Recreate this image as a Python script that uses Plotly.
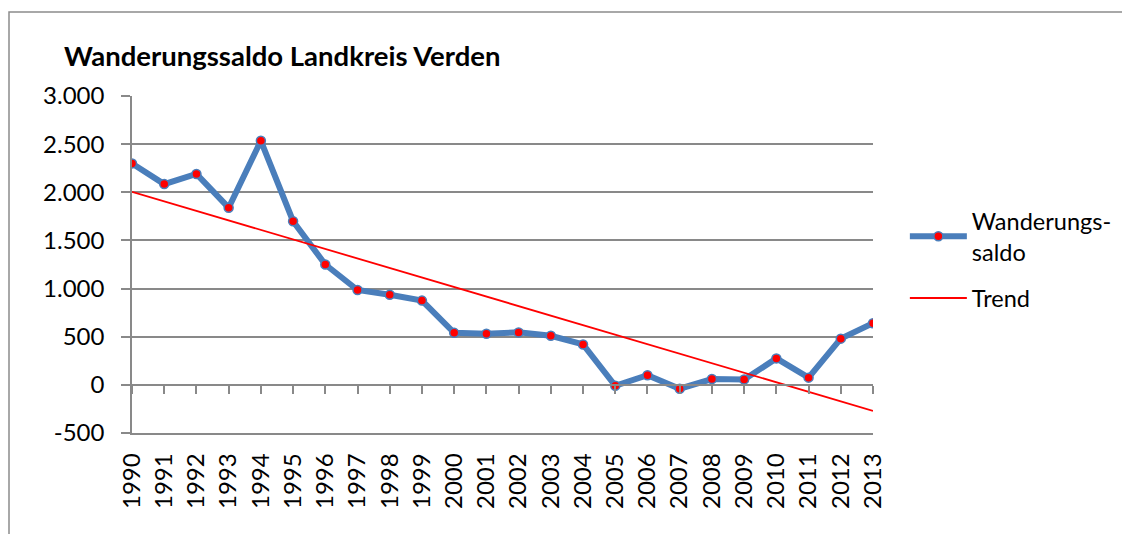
import plotly.graph_objects as go

years = list(range(1990, 2014))
saldo = [2300, 2085, 2190, 1840, 2535, 1700, 1250, 985, 935, 875, 540, 530,
         545, 510, 420, -10, 100, -40, 60, 55, 275, 75, 480, 640]
trend_years = [1990, 2013]
trend_values = [2005, -270]
y_ticks = [-500, 0, 500, 1000, 1500, 2000, 2500, 3000]
y_tick_labels = ["-500", "0", "500", "1.000", "1.500", "2.000", "2.500", "3.000"]
title_text = "Wanderungssaldo Landkreis Verden"

FONT = "Lato, 'Open Sans', sans-serif"
GRID = "#898989"
OFF = 8  # page body margin
W, H = 1130, 534 - OFF

fig = go.Figure()
fig.add_trace(go.Scatter(
    x=years, y=saldo, mode="lines+markers", name="Wanderungs-<br>saldo",
    legendgroup="a",
    line=dict(color="#4A7EBB", width=6),
    marker=dict(color="#FF0000", size=9, line=dict(color="#4A7EBB", width=1.5)),
    hoverinfo="skip",
))
fig.add_trace(go.Scatter(
    x=trend_years, y=trend_values, mode="lines", name="Trend", legendgroup="b",
    line=dict(color="#FF0000", width=1.8), xaxis="x2", hoverinfo="skip",
))

fig.update_layout(
    width=W, height=H,
    margin=dict(l=132 - OFF, r=W - (873 - OFF), t=96 - OFF, b=101),
    paper_bgcolor="white", plot_bgcolor="white",
    font=dict(family=FONT, size=24, color="black"),
    title=dict(text="<b>" + title_text + "</b>", x=(64 - OFF) / W, xref="container",
               xanchor="left", y=1 - (56 - OFF) / H, yref="container", yanchor="middle",
               font=dict(family=FONT, size=27.5, color="black")),
    showlegend=True,
    legend=dict(x=1.043, xanchor="left", y=0.694, yanchor="top",
                font=dict(family=FONT, size=23.5, color="black"),
                itemwidth=57, bgcolor="rgba(0,0,0,0)", tracegroupgap=13),
    xaxis=dict(range=[1990, 2013], tickmode="array", tickvals=years,
               ticktext=[str(y) for y in years], tickangle=-90,
               showgrid=False, zeroline=False, showline=True, linecolor=GRID,
               linewidth=1.5, ticks="", ticklabelstandoff=9,
               tickfont=dict(family=FONT, size=24, color="black")),
    xaxis2=dict(range=[1990, 2013], overlaying="x", anchor="free",
                position=(0 - y_ticks[0]) / (y_ticks[-1] - y_ticks[0]),
                side="bottom", showticklabels=False, showgrid=False,
                zeroline=False, showline=True, linecolor=GRID, linewidth=1.5,
                ticks="outside", ticklen=8, tickwidth=1.5, tickcolor=GRID,
                tickmode="array", tickvals=years),
    yaxis=dict(range=[y_ticks[0], y_ticks[-1]], tickmode="array", tickvals=y_ticks,
               ticktext=y_tick_labels, showgrid=True, gridcolor=GRID, gridwidth=1.5,
               zeroline=False, showline=True, linecolor=GRID, linewidth=1.5,
               ticks="outside", ticklen=9, tickwidth=1.5, tickcolor=GRID,
               ticklabelstandoff=12,
               tickfont=dict(family=FONT, size=24, color="black")),
)

# outer chart-area border (extends past the right/bottom of the picture)
fig.add_shape(type="rect", xref="paper", yref="paper",
              x0=(9 - 132) / 741, x1=2.0, y0=-1.0, y1=(433 - 12) / 337,
              line=dict(color="#8c8c8c", width=1.5), fillcolor="rgba(0,0,0,0)",
              layer="below")

fig.write_html("out.html")
